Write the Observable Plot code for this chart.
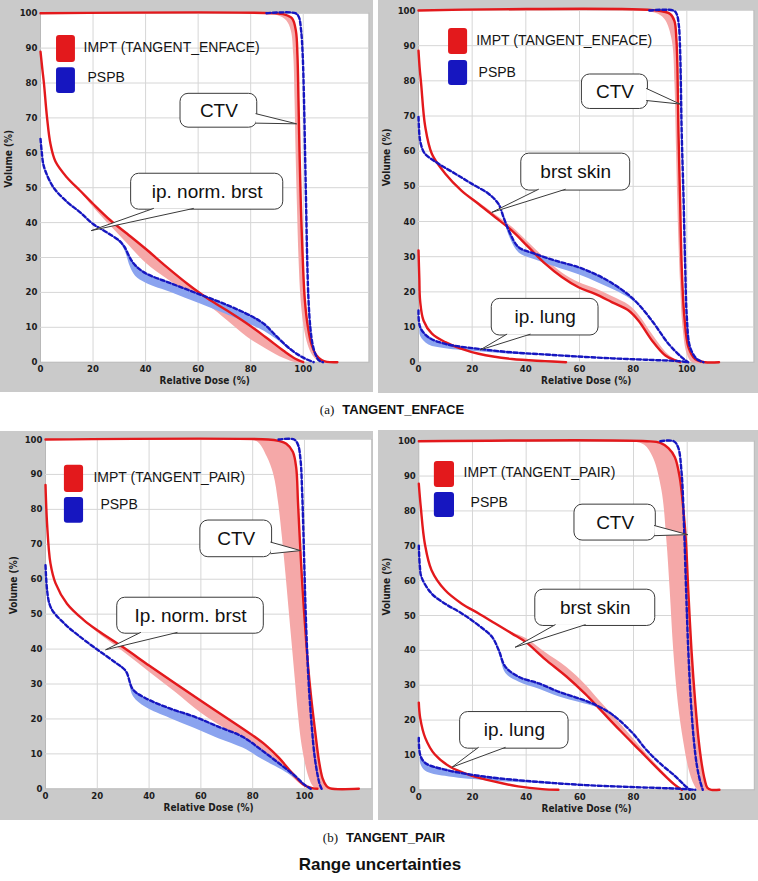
<!DOCTYPE html>
<html><head><meta charset="utf-8">
<script src="https://cdn.jsdelivr.net/npm/d3@7"></script>
<script src="https://cdn.jsdelivr.net/npm/@observablehq/plot@0.6"></script>
<style>
body{margin:0;background:#fff;}
#page{position:relative;width:758px;height:881px;overflow:hidden;background:#fff;}
.panel{position:absolute;display:block;}
.cap{position:absolute;transform:translate(-50%,-50%);white-space:nowrap;color:#111;}
.ser{font-family:'Liberation Serif','Times New Roman',serif;font-size:13px;}
.sb{font-family:'Liberation Sans',Arial,sans-serif;font-weight:bold;font-size:13px;}
</style></head><body><div id="page"></div>
<script>
// ---------- tick labels ----------
const xTicks = [0, 20, 40, 60, 80, 100];
const yTicks = [0, 10, 20, 30, 40, 50, 60, 70, 80, 90, 100];
const xLabel = "Relative Dose (%)";
const yLabel = "Volume (%)";
const seriesNames = ["PSPB"];
const planNames = ["IMPT (TANGENT_ENFACE)", "IMPT (TANGENT_PAIR)"];
const captions = ["(a)", "TANGENT_ENFACE", "(b)", "TANGENT_PAIR", "Range uncertainties"];

// ---------- panel (a) left : CTV + ip. norm. brst ----------
const p1CtvImpt = [[0,100],[88,100],[93,99.6],[95.8,98.5],[97.2,95],[97.8,88],[98.2,75],[98.6,60],[99.1,45],[99.8,30],[100.6,18],[101.8,10],[103.2,5],[105,2],[107,0.6],[109,0.1],[113,0]];
const p1CtvImptBand = [[84,100],[90,99.5],[93.5,98],[95.3,95],[96.2,88],[96.7,75],[97.1,60],[97.6,45],[98.2,30],[99,18],[100.2,10],[101.7,5],[103.5,2],[105.5,0.5],[108,0]];
const p1CtvPspb = [[86,100],[97,100],[98.3,99],[99.2,95],[99.8,88],[100.3,75],[100.7,60],[101.1,45],[101.5,30],[102,18],[102.7,10],[103.6,5],[104.8,2],[106,0.5],[107.5,0]];
const p1BrstImpt = [[0,89],[0.7,84],[1.3,80],[2.5,70],[3.8,62.5],[5.7,57.5],[10,53],[15,49.2],[20,45.4],[26.7,40.6],[33,36.8],[40,32.5],[48,27.3],[56,22.4],[63.5,18.3],[71,14.8],[78.7,11],[86,7],[92.5,3.3],[97,1],[100,0]];
const p1BrstImptBand = [[0,89],[0.7,84],[1.3,80],[2.5,70],[3.8,62.5],[5.7,57.5],[10,53],[15,49],[20,44.5],[26.7,39],[33,34],[40,28.5],[48,24],[56,20],[63.5,16.5],[71,12],[78.7,7.2],[86,3.8],[92.5,1.2],[97,0]];
const p1BrstPspb = [[0,64],[0.5,60],[1,57],[2,54.5],[5,50],[10,46],[15,43],[20,39.6],[25,37.3],[30,34.8],[32,33],[34,30],[36,27.8],[40,25.5],[50,22.5],[60,19.6],[70,16.7],[80,13.3],[85,11],[90,7.3],[95,3.8],[100,1.3],[104,0]];
const p1BrstPspbBand = [[0,64],[0.5,60],[1,57],[2,54.5],[5,50],[10,46],[15,43],[20,39.6],[25,37.3],[30,34.5],[32,32],[34,27.5],[36,24.8],[40,22.8],[50,20],[60,17],[70,14],[80,10.8],[85,9],[90,6.5],[95,3.5],[100,1.2],[104,0]];
const p1Callouts = [
  {label:"CTV", box:[53.3,82.5,67.2,76.9], side:"right", base:[71.2,68.5], tip:[97.5,68.3]},
  {label:"ip. norm. brst", box:[34.5,92.4,43.7,54], side:"bottom", base:[43,58.2], tip:[19.3,37.7]}
];

// ---------- panel (a) right : CTV + brst skin + ip. lung ----------
const p2CtvImpt = [[0,100],[89,100],[93.8,99],[95.4,97],[96.1,92],[96.5,84],[96.9,65],[97.5,46],[98.1,27],[99.1,12.8],[100.6,4.3],[103.1,0.9],[106.8,0],[112,0]];
const p2CtvImptBand = [[84,100],[89.4,99],[92,97.2],[94.4,91.5],[95.4,79],[96,60],[96.6,41],[97.5,22],[98.4,10],[100,2.4],[102,0]];
const p2CtvPspb = [[86,100],[95,100],[96.2,99],[97,96],[97.5,88.6],[98.1,65],[98.8,46],[99.4,27],[100,12.8],[101.2,4.3],[103.7,0.9],[106.2,0]];
const p2SkinImpt = [[0,88.6],[0.4,84],[1,79],[2.5,67],[5,59.2],[10,53.6],[16,48.8],[22.4,45],[28.6,41.2],[34.8,37.4],[41,32.7],[47.2,28],[53.4,24.2],[59.6,21.3],[65.8,19.4],[72,17.1],[78.3,14.7],[82,11.8],[87,6.2],[92,1.9],[95.7,0.5],[97.5,0]];
const p2SkinImptBand = [[0,88.6],[0.4,84],[1,79],[2.5,67],[5,59.2],[10,53.6],[16,48.8],[22.4,45.5],[28.6,42],[34.8,38.5],[41,34],[47.2,29.5],[53.4,25.5],[59.6,22.8],[65.8,21],[72,18.8],[78.3,16.3],[82,13.5],[87,8],[92,3],[96,0.7],[98.5,0]];
const p2SkinPspb = [[0,69.7],[0.3,65],[0.6,63],[1.5,60.5],[2.5,59.2],[7.5,56.4],[13.7,53.6],[19.9,50.7],[26.1,47.9],[29.8,45],[31.7,41.2],[34.2,36.5],[37.3,32.7],[43.5,30.8],[50.9,28.9],[59.6,27],[67.1,24.6],[74.5,21.3],[80.7,17.5],[87,11.8],[93.2,5.2],[98.1,1.4],[100.5,0]];
const p2SkinPspbBand = [[0,69.7],[0.3,65],[0.6,63],[1.5,60.5],[2.5,59.2],[7.5,56.4],[13.7,53.6],[19.9,50.7],[26.1,47.9],[29.8,45],[31.7,40.5],[34.2,35],[37.3,31.2],[43.5,29.2],[50.9,27.2],[59.6,25],[67.1,22.6],[74.5,20],[80.7,17],[87,11.8],[93.2,5.2],[98.1,1.4],[100.5,0]];
const p2LungImpt = [[0,31.8],[0.3,24],[0.6,17.5],[1.9,11.8],[5,8.1],[10,5.7],[16.1,3.8],[22.4,2.4],[34.8,0.9],[47.2,0.3],[55,0]];
const p2LungPspb = [[0,14.7],[0.6,10],[3.7,7.1],[10,5.2],[22.4,3.8],[34.8,2.8],[47.2,2.2],[59.6,1.6],[72,1.1],[84.5,0.7],[96.9,0.3],[100.6,0]];
const p2LungPspbBand = [[0,14.7],[0.3,10],[0.6,7.5],[3.7,5],[10,4],[22.4,3.1],[34.8,2.4],[47.2,2],[59.6,1.6],[72,1.1],[84.5,0.7],[96.9,0.3],[100.6,0]];
const p2Callouts = [
  {label:"CTV", box:[60.9,85.5,72,81.8], side:"right", base:[77.8,74.4], tip:[97.5,73.4]},
  {label:"brst skin", box:[38.3,78.9,48.8,59.3], side:"bottom", base:[44.7,54.7], tip:[27.3,42.6]},
  {label:"ip. lung", box:[27.3,67.1,7.6,18], side:"bottom", base:[32.9,41.6], tip:[23,3.5]}
];

// ---------- panel (b) left : CTV + Ip. norm. brst ----------
const p3CtvImpt = [[0,100],[86,100],[90,99.6],[93,98.8],[95.5,96.5],[96.8,92],[97.5,82],[98.3,70],[99.2,58],[100.2,47],[101.3,36],[102.6,26],[104.2,16],[105.6,8],[107,3],[108.5,0.8],[110,0.1],[121,0]];
const p3CtvImptBand = [[76,100],[81.6,99.5],[85.4,95.2],[88,90],[89.8,82],[91.3,72],[92.6,62],[93.8,52],[95,42],[96.2,32],[97.4,22],[98.6,14],[100,8],[101.5,3.5],[103,1],[104.5,0]];
const p3CtvPspb = [[90,100],[96,100],[97.5,98.5],[98.5,94],[99.1,85],[99.5,76],[99.9,65],[100.4,52],[101,40],[101.8,28],[102.8,18],[103.8,10],[104.8,5],[105.8,1.5],[106.6,0]];
const p3BrstImpt = [[0,87],[0.6,76],[1.9,64.6],[3.9,58.8],[8.3,53],[14.8,48.3],[20,45.4],[30,40.5],[40,35.3],[50,30.2],[60,25.2],[70,20.3],[80,15.3],[85,12.5],[90,9],[95,4.7],[100,1],[103,0.2],[105,0]];
const p3BrstImptBand = [[0,87],[0.6,76],[1.9,64.6],[3.9,58.8],[8.3,53],[14.8,48.1],[20,44.8],[30,39.3],[40,33.5],[50,27.8],[60,21.8],[70,17],[80,12.8],[85,10.4],[90,7.2],[95,3.6],[100,0.6],[103,0]];
const p3BrstPspb = [[0,64],[0.6,57],[1.5,53],[3,50.7],[8,46.8],[12.2,44.2],[19.7,40],[27.3,36],[31,33.7],[33.8,28.4],[38.5,26],[48,23],[57.3,20.7],[66.7,17.8],[76.1,14.9],[83.6,11],[91.2,6.7],[96.8,3.4],[99.6,1.4],[102.4,0]];
const p3BrstPspbBand = [[0,64],[0.6,57],[1.5,53],[3,50.7],[8,46.8],[12.2,44.2],[19.7,40],[27.3,36],[31,33.5],[33.8,26.5],[38.5,23.5],[48,20.3],[57.3,17.5],[66.7,14.5],[76.1,11.8],[83.6,8.5],[91.2,5.5],[96.8,2.8],[99.6,1.2],[102.4,0]];
const p3Callouts = [
  {label:"CTV", box:[59.8,87.5,66.3,76.8], side:"right", base:[70.6,67.3], tip:[98.5,68.2]},
  {label:"Ip. norm. brst", box:[27.7,84.3,44.4,54.7], side:"bottom", base:[36.7,50.8], tip:[23.2,39.8]}
];

// ---------- panel (b) right : CTV + brst skin + ip. lung ----------
const p4CtvImpt = [[0,100],[85,100],[90,99.5],[93,98],[95.4,95.4],[97.2,89.7],[98.5,81],[99.5,71.6],[100.4,57.3],[101.6,40],[103,25],[104.3,14],[105.5,7],[106.5,3],[107.5,0.6],[109,0],[112,0]];
const p4CtvImptBand = [[80,100],[84,99],[87.2,95.4],[90.4,86],[92.2,72],[93.5,57],[94.8,40],[96.5,25],[98.5,14],[100.5,6],[102.5,1.5],[104,0]];
const p4CtvPspb = [[90,100],[95,100],[96.6,98.3],[97.9,91],[98.8,76],[99.6,57],[100.4,40],[101.4,25],[102.5,14],[103.6,7],[104.8,2.5],[105.8,0]];
const p4SkinImpt = [[0,87.8],[0.75,81],[2.25,70.6],[4.75,63],[9.75,57.3],[16,53.4],[22.3,50.6],[28.5,47.7],[34.75,44.8],[40,42.3],[47,37.5],[55,32.5],[62,27.5],[67,23.5],[75,17],[82.7,11],[90,5.3],[95.4,1.4],[98,0]];
const p4SkinImptBand = [[0,87.8],[0.75,81],[2.25,70.6],[4.75,63],[9.75,57.3],[16,53.4],[22.3,50.6],[28.5,47.8],[34.75,45.2],[40,43.5],[47,39.5],[55,35.2],[62,30.2],[67,25.8],[75,19],[82.7,12.2],[90,6],[95.4,1.8],[98.5,0]];
const p4SkinPspb = [[0,70],[0.4,64],[1,61],[4.75,56.3],[9.75,53.4],[16,50.6],[22.25,47.2],[27.25,43.9],[29.75,40.1],[32.25,35.3],[37.25,32.4],[44.75,30.5],[52.25,28.1],[59.75,26.2],[66,24.3],[72.25,21.5],[79.75,16.2],[84.75,11.5],[90,7.5],[95.4,4],[99,1.3],[101,0]];
const p4SkinPspbBand = [[0,70],[0.4,64],[1,61],[4.75,56.3],[9.75,53.4],[16,50.6],[22.25,47.2],[27.25,43.9],[29.75,39.5],[32.25,33.5],[37.25,31],[44.75,29],[52.25,26.8],[59.75,25.2],[66,23.8],[72.25,21.3],[79.75,16.2],[84.75,11.5],[90,7.5],[95.4,4],[99,1.3],[101,0]];
const p4LungImpt = [[0,25],[0.5,20.7],[2.4,14.9],[6,10.1],[11.5,6.7],[18.8,4.3],[27.9,2.4],[37,1],[46,0.2],[52,0]];
const p4LungPspb = [[0,14.9],[0.5,10.1],[2.4,7.7],[9.7,5.8],[24.3,3.8],[42.5,2.4],[60.8,1.4],[79,0.8],[97.3,0.3],[103,0]];
const p4LungPspbBand = [[0,14.9],[0.3,10],[0.6,7.5],[2.4,5.5],[9.7,4],[24.3,2.8],[42.5,2],[60.8,1.3],[79,0.8],[97.3,0.3],[103,0]];
const p4Callouts = [
  {label:"CTV", box:[58,88.3,71.5,81.8], side:"right", base:[75.8,72.9], tip:[100.2,73.2]},
  {label:"brst skin", box:[43.4,88.1,47,57.4], side:"bottom", base:[50.8,62], tip:[35.9,40.9]},
  {label:"ip. lung", box:[15.4,55.8,11.8,22.3], side:"bottom", base:[22.2,32.2], tip:[12.4,6.5]}
];

// ---------- legend geometry in data units (per panel) ----------
const legends = [
  {swX:[6.1,13.3], red:[85.9,93.6], blue:[77,84.4], t1:[16.4,90.2], t2:[17.9,81.6]},
  {swX:[11.2,18.3], red:[87.5,94.9], blue:[78.7,85.8], t1:[21.5,91.5], t2:[22.4,82.4]},
  {swX:[7.3,14.7], red:[84.8,92.6], blue:[76,83.4], t1:[18.5,89.1], t2:[21.2,81.4]},
  {swX:[5.8,13.3], red:[86.7,94.2], blue:[78.1,85.3], t1:[16.7,91], t2:[19.3,82.4]}
];

// ---------- styling ----------
const RED = "#e3191c", BLUE = "#1616c0", RED_BAND = "#f5a8a8", BLUE_BAND = "#8aa3ef";
const NARROW = "'DejaVu Sans Condensed','DejaVu Sans',sans-serif";
const SANS = "'Liberation Sans',Arial,sans-serif";

function band(nominal, bound, fill) {
  const poly = bound.concat(nominal.slice().reverse());
  return Plot.line(poly, {x: d => d[0], y: d => d[1], fill, stroke: "none", curve: "catmull-rom"});
}

function panel(cfg) {
  const lg = cfg.legend;
  const marks = [
    Plot.frame({fill: "white", stroke: "#b8b8b8"}),
    Plot.gridX(xTicks.slice(1), {stroke: "#d6d6d6", strokeOpacity: 1}),
    Plot.gridY(yTicks.slice(1), {stroke: "#d6d6d6", strokeOpacity: 1}),
    ...cfg.redBands.map(([n, b]) => band(n, b, RED_BAND)),
    ...cfg.blueBands.map(([n, b]) => band(n, b, BLUE_BAND)),
    ...cfg.red.map(c => Plot.line(c, {x: d => d[0], y: d => d[1], stroke: RED, strokeWidth: 2.4, curve: "catmull-rom"})),
    ...cfg.blue.map(c => Plot.line(c, {x: d => d[0], y: d => d[1], stroke: BLUE, strokeWidth: 2.4, strokeDasharray: "4,2.5", curve: "catmull-rom"})),
    Plot.axisX(xTicks, {tickSize: 0, tickPadding: 3, label: null, fontSize: 9.5}),
    Plot.axisY(yTicks, {tickSize: 0, tickPadding: 3, label: null, fontSize: 9.5}),
    Plot.text([xLabel], {frameAnchor: "bottom", dy: 22, text: d => d, fontSize: 10, fontWeight: "bold", fontFamily: NARROW}),
    Plot.text([yLabel], {frameAnchor: "left", dx: -32, rotate: -90, text: d => d, fontSize: 10, fontWeight: "bold", fontFamily: NARROW}),
    // legend
    Plot.rect([{c: RED, y: lg.red}, {c: BLUE, y: lg.blue}], {x1: lg.swX[0], x2: lg.swX[1], y1: d => d.y[0], y2: d => d.y[1], fill: d => d.c, rx: 3}),
    Plot.text([{t: cfg.plan, p: lg.t1}, {t: seriesNames[0], p: lg.t2}], {x: d => d.p[0], y: d => d.p[1], text: d => d.t, textAnchor: "start", fontSize: 14, fontWeight: "normal", fontFamily: SANS, fill: "#151515"}),
  ];
  // callouts
  const co = cfg.callouts;
  const ptr = [];
  co.forEach((c, i) => {
    const [x1, x2, y1, y2] = c.box;
    if (c.side === "right") {
      ptr.push({i, x: x2 - 0.5, y: c.base[0]}, {i, x: c.tip[0], y: c.tip[1]}, {i, x: x2 - 0.5, y: c.base[1]});
    } else {
      ptr.push({i, x: c.base[0], y: y1 + 0.35}, {i, x: c.tip[0], y: c.tip[1]}, {i, x: c.base[1], y: y1 + 0.35});
    }
  });
  marks.push(
    Plot.rect(co, {x1: d => d.box[0], x2: d => d.box[1], y1: d => d.box[2], y2: d => d.box[3], fill: "white", stroke: "#3a3a3a", strokeWidth: 1, rx: 8}),
    Plot.line(ptr, {x: "x", y: "y", z: "i", fill: "white", stroke: "#3a3a3a", strokeWidth: 1, curve: "linear"}),
    Plot.text(co, {x: d => (d.box[0] + d.box[1]) / 2, y: d => (d.box[2] + d.box[3]) / 2, text: d => d.label, fontSize: 19, fontWeight: "normal", fontFamily: SANS, fill: "#111"})
  );
  const svg = Plot.plot({
    width: cfg.w, height: cfg.h,
    marginLeft: cfg.ml, marginRight: cfg.mr, marginTop: cfg.mt, marginBottom: cfg.mb,
    x: {domain: [0, cfg.xmax]},
    y: {domain: [0, 100]},
    style: {background: "#cacaca", fontFamily: NARROW, fontSize: "9.5px", fontWeight: "bold", color: "#1c1c1c", overflow: "visible"},
    marks
  });
  svg.classList.add("panel");
  svg.style.left = cfg.left + "px";
  svg.style.top = cfg.top + "px";
  return svg;
}

const page = document.getElementById("page");
page.append(
  panel({left: 0, top: 0, w: 373, h: 392, ml: 40, mr: 4.6, mt: 12.7, mb: 30.3, xmax: 125, plan: planNames[0], legend: legends[0],
    red: [p1BrstImpt, p1CtvImpt], blue: [p1BrstPspb, p1CtvPspb],
    redBands: [[p1CtvImpt, p1CtvImptBand], [p1BrstImpt, p1BrstImptBand]], blueBands: [[p1BrstPspb, p1BrstPspbBand]],
    callouts: p1Callouts}),
  panel({left: 378, top: 0, w: 380, h: 393, ml: 40, mr: 4.6, mt: 10, mb: 31.3, xmax: 125, plan: planNames[0], legend: legends[1],
    red: [p2LungImpt, p2SkinImpt, p2CtvImpt], blue: [p2LungPspb, p2SkinPspb, p2CtvPspb],
    redBands: [[p2CtvImpt, p2CtvImptBand], [p2SkinImpt, p2SkinImptBand]], blueBands: [[p2SkinPspb, p2SkinPspbBand], [p2LungPspb, p2LungPspbBand]],
    callouts: p2Callouts}),
  panel({left: 0, top: 431, w: 373, h: 389, ml: 45, mr: 1.7, mt: 8, mb: 31.7, xmax: 126, plan: planNames[1], legend: legends[2],
    red: [p3BrstImpt, p3CtvImpt], blue: [p3BrstPspb, p3CtvPspb],
    redBands: [[p3CtvImpt, p3CtvImptBand], [p3BrstImpt, p3BrstImptBand]], blueBands: [[p3BrstPspb, p3BrstPspbBand]],
    callouts: p3Callouts}),
  panel({left: 378, top: 430, w: 380, h: 390, ml: 40.3, mr: 4.2, mt: 10.7, mb: 30.7, xmax: 125, plan: planNames[1], legend: legends[3],
    red: [p4LungImpt, p4SkinImpt, p4CtvImpt], blue: [p4LungPspb, p4SkinPspb, p4CtvPspb],
    redBands: [[p4CtvImpt, p4CtvImptBand], [p4SkinImpt, p4SkinImptBand]], blueBands: [[p4SkinPspb, p4SkinPspbBand], [p4LungPspb, p4LungPspbBand]],
    callouts: p4Callouts})
);

function caption(html, cx, cy, cls) {
  const d = document.createElement("div");
  d.className = "cap " + (cls || "");
  d.style.left = cx + "px"; d.style.top = cy + "px";
  d.innerHTML = html;
  page.append(d);
}
caption(`<span class="ser">${captions[0]}</span>&nbsp; <span class="sb">${captions[1]}</span>`, 392, 409);
caption(`<span class="ser">${captions[2]}</span>&nbsp; <span class="sb">${captions[3]}</span>`, 384, 837);
caption(`<span style="font-family:'Liberation Sans',Arial,sans-serif;font-weight:bold;font-size:17px">${captions[4]}</span>`, 380, 865);
</script>
</body></html>
